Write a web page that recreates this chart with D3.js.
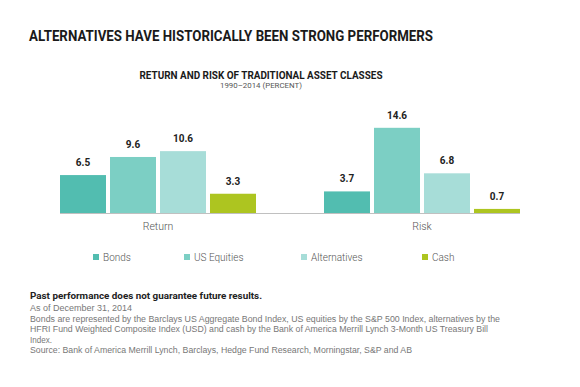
<!DOCTYPE html>
<html>
<head>
<meta charset="utf-8">
<script src="https://cdn.jsdelivr.net/npm/d3@7"></script>
<style>
  body { margin: 0; background: #fff; }
  svg text { font-family: Roboto, "Liberation Sans", sans-serif; }
</style>
</head>
<body>
<svg id="chart" width="580" height="387"></svg>
<script>
const groups = ['Return', 'Risk'];
const series = ['Bonds', 'US Equities', 'Alternatives', 'Cash'];
const returnValues = [6.5, 9.6, 10.6, 3.3];
const riskValues = [3.7, 14.6, 6.8, 0.7];
const colors = ['#52bdb0', '#7ccfc4', '#a7ddd8', '#adc520'];
const footnotes = [
  'As of December 31, 2014',
  'Bonds are represented by the Barclays US Aggregate Bond Index, US equities by the S&P 500 Index, alternatives by the',
  'HFRI Fund Weighted Composite Index (USD) and cash by the Bank of America Merrill Lynch 3-Month US Treasury Bill',
  'Index.',
  'Source: Bank of America Merrill Lynch, Barclays, Hedge Fund Research, Morningstar, S&P and AB'
];

const svg = d3.select('#chart');
const valuesByGroup = { Return: returnValues, Risk: riskValues };

const x0 = d3.scaleBand().domain(groups).range([60, 520]).paddingInner(0.2576);
const x1 = d3.scaleBand().domain(series).range([0, x0.bandwidth()]).paddingInner(0.08);
const y = d3.scaleLinear().domain([0, 14.6]).range([213, 127.8]);
const color = d3.scaleOrdinal(series, colors);

// titles
svg.append('text')
  .attr('x', 29).attr('y', 41)
  .attr('font-size', 15.5).attr('font-weight', 700)
  .attr('fill', '#1a1a1a')
  .attr('textLength', 404).attr('lengthAdjust', 'spacingAndGlyphs')
  .text('ALTERNATIVES HAVE HISTORICALLY BEEN STRONG PERFORMERS');

svg.append('text')
  .attr('x', 261).attr('y', 78.5).attr('text-anchor', 'middle')
  .attr('font-size', 10).attr('font-weight', 700).attr('fill', '#1a1a1a')
  .attr('textLength', 243).attr('lengthAdjust', 'spacingAndGlyphs')
  .text('RETURN AND RISK OF TRADITIONAL ASSET CLASSES');

svg.append('text')
  .attr('x', 261).attr('y', 88).attr('text-anchor', 'middle')
  .attr('font-size', 7.5).attr('fill', '#555')
  .attr('textLength', 82).attr('lengthAdjust', 'spacingAndGlyphs')
  .text('1990–2014 (PERCENT)');

// bars
const g = svg.append('g');
groups.forEach(grp => {
  const gg = g.append('g').attr('transform', `translate(${x0(grp)},0)`);
  const data = series.map((s, i) => ({ s, v: valuesByGroup[grp][i] }));
  gg.selectAll('rect')
    .data(data)
    .join('rect')
    .attr('x', d => x1(d.s))
    .attr('y', d => y(d.v))
    .attr('width', x1.bandwidth())
    .attr('height', d => y(0) - y(d.v))
    .attr('fill', d => color(d.s));
  gg.selectAll('text.val')
    .data(data)
    .join('text')
    .attr('class', 'val')
    .attr('x', d => x1(d.s) + x1.bandwidth() / 2)
    .attr('y', d => y(d.v) - 9)
    .attr('text-anchor', 'middle')
    .attr('font-size', 10).attr('font-weight', 700).attr('fill', '#222')
    .text(d => d.v.toFixed(1));
});

// baseline + category axis
svg.append('line')
  .attr('x1', 60).attr('x2', 520)
  .attr('y1', y(0) + 0.5).attr('y2', y(0) + 0.5)
  .attr('stroke', '#c0c0c0').attr('stroke-width', 1);

const xAxis = d3.axisBottom(x0).tickSize(0).tickPadding(10);
const axisG = svg.append('g').attr('transform', `translate(0,${y(0)})`).call(xAxis);
axisG.select('.domain').remove();
axisG.selectAll('text')
  .attr('font-size', 10.5).attr('fill', '#555')
  .style('font-family', 'Roboto, sans-serif').style('font-weight', 300);

// legend
const legendX = [93, 184, 301, 422];
const legend = svg.append('g').selectAll('g')
  .data(series)
  .join('g')
  .attr('transform', (d, i) => `translate(${legendX[i]},257)`);
legend.append('rect')
  .attr('x', 0).attr('y', -3).attr('width', 6).attr('height', 6)
  .attr('fill', d => color(d));
legend.append('text')
  .attr('x', 10).attr('y', 3.5)
  .attr('font-size', 10).attr('fill', '#555').attr('font-weight', 300)
  .text(d => d);

// footer
svg.append('text')
  .attr('x', 30).attr('y', 299)
  .attr('font-size', 9).attr('font-weight', 700).attr('fill', '#222')
  .attr('textLength', 232).attr('lengthAdjust', 'spacingAndGlyphs')
  .text('Past performance does not guarantee future results.');

const footLens = [102, 470, 458, 22, 382];
svg.append('g').selectAll('text')
  .data(footnotes)
  .join('text')
  .attr('x', 30)
  .attr('y', (d, i) => 311 + i * 10.6)
  .attr('font-size', 8.3).attr('fill', '#777')
  .style('font-family', '"Liberation Sans", Arial, sans-serif')
  .attr('textLength', (d, i) => footLens[i]).attr('lengthAdjust', 'spacingAndGlyphs')
  .text(d => d);
</script>
</body>
</html>
